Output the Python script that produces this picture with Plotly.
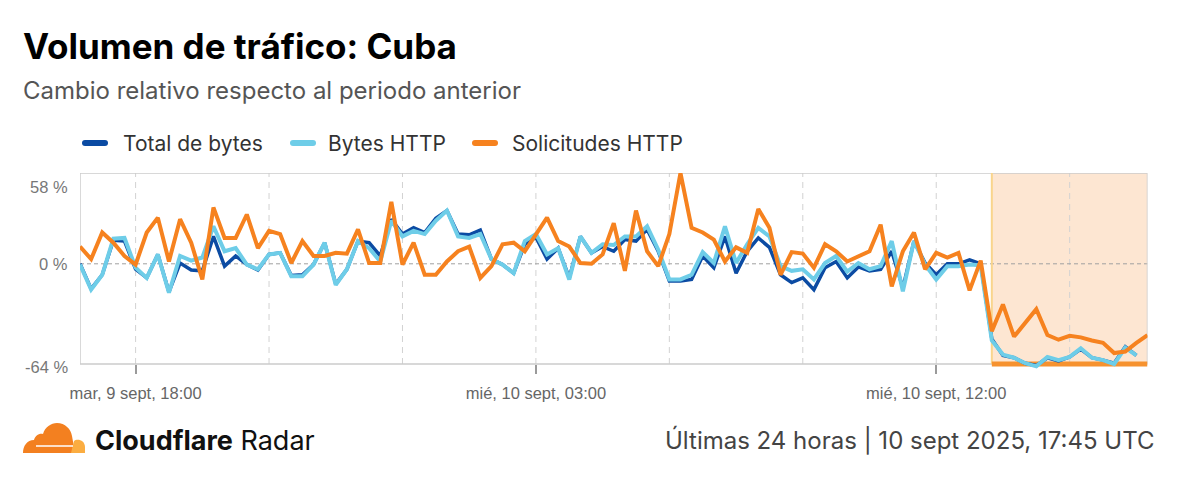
import plotly.graph_objects as go
import pandas as pd

# ---------------- data (relative change, %) ----------------
start_time = "2025-09-09 16:45"
step = "15min"

http_requests = [11, 3, 20, 13.5, 5, -0.5, 20, 29.5, 1.5, 28.5,
                 13.5, -10, 36, 16.5, 16.5, 31.5, 10, 21, 19, 0.5,
                 14.5, 5, 5, 7, 6.5, 22, 0.5, 0.5, 39.5, -0.5,
                 13.5, -7, -7, 1.5, 8, 11, -9, -1.5, 12.5, 13.5,
                 8, 19, 29.5, 14.5, 11, 0.5, 0, 6, 26, -4.5,
                 34, 8, -1.5, 19, 58, 23, 20, 15.5, 1.5, 10.5,
                 7, 35, 23, -7, 7.5, 6.5, -2.5, 12.5, 8, 1.5,
                 5, 8, 25, -14.5, 8, 20, -3.5, 7, 4, 7,
                 -17, 2, -43, -26, -46.5, -38, -29, -45.5, -48.5, -46,
                 -47, -49, -50.5, -57, -56, -50.5, -45.5]

http_bytes = [-0.5, -16.5, -7, 16, 16.5, -2.5, -9, 6, -18.5, 5,
              2, 4, 24, 8, 10, -0.5, -3.5, 6, 7, -8,
              -8, -0.5, 13.5, -13.5, -3.5, 14.5, 10, 1.5, 27.5, 17.5,
              21, 19, 27.5, 34, 17.5, 16.5, 19, 3, -0.5, -6,
              14.5, 19, 6, 10, -10, 17.5, 7, 12.5, 12, 17.5,
              17.5, 24, 9, -10, -10, -7, 7.5, 0.5, 24, 0.5,
              12.5, 23, 17.5, -1.5, -4.5, -3.5, -10, 0.5, 5, -5,
              0.5, -3.5, -1.5, 14.5, -17.5, 14.5, -0.5, -10, -1.5, -1.5,
              -0.5, -1, -49, -58, -60, -63.5, -65.5, -59.5, -61.5, -59.5,
              -54, -60, -61.5, -64, -53.5, -58.5]

total_bytes = [0, -16, -7, 15, 14.5, -3.5, -9, 6, -18, 0.5,
               -4, -4.5, 17.5, -1.5, 5, -0.5, -4, 6, 7, -7.5,
               -7, -0.5, 13.5, -13, -3.5, 14.5, 13.5, 5, 28.5, 19,
               23, 20, 29, 34, 19, 18.5, 21.5, 3, -0.5, -6,
               12.5, 17, 3, 10, -9, 17.5, 7, 11, 8, 15.5,
               14.5, 22, 8, -11, -11, -10, 5, -2.5, 17.5, -6,
               8, 16.5, 10.5, -7, -12, -9, -16.5, -2.5, 1.5, -9,
               -2, -4.5, -3.5, 8, -15.5, 14.5, 0.5, -7, 0, 0,
               2.5, 0, -48, -58.5, -60, -63.5, -65, -60, -62, -59.5,
               -54.5, -60, -61.5, -63.5, -53, -58.5]

series_names = ["Total de bytes", "Bytes HTTP", "Solicitudes HTTP"]
series_colors = ["#0B4BA3", "#6ECDE8", "#F6821F"]

tick_times = ["2025-09-09 18:00", "2025-09-10 03:00", "2025-09-10 12:00"]
tick_labels = ["mar, 9 sept, 18:00", "mié, 10 sept, 03:00", "mié, 10 sept, 12:00"]
grid_times = ["2025-09-09 18:00", "2025-09-09 21:00", "2025-09-10 00:00",
              "2025-09-10 03:00", "2025-09-10 06:00", "2025-09-10 09:00",
              "2025-09-10 12:00", "2025-09-10 15:00"]
y_tick_labels = ["58 %", "0 %", "-64 %"]
outage_start = "2025-09-10 13:15"

times = pd.date_range(start_time, periods=len(http_requests), freq=step)
t_end = times[-1]

# ---------------- geometry (page pixels) ----------------
W, H = 1160, 477
OX, OY = 8, 8
Y_MAX, Y_MIN, Y_LOW = 58, -64, -68
PX_TOP, PX_BOT = 173, 364
scale = (PX_BOT - PX_TOP) / (Y_MAX - Y_MIN)
px_low = PX_BOT + (Y_MIN - Y_LOW) * scale


def fx(px):
    return px - OX


def fy(py):
    return py - OY


x_dom = [fx(80) / W, fx(1147.5) / W]
y_dom = [1 - fy(px_low) / H, 1 - fy(PX_TOP) / H]

fig = go.Figure()

line_widths = [3.5, 4, 4]
for name, vals, col, lw in zip(series_names, [total_bytes, http_bytes, http_requests],
                               series_colors, line_widths):
    fig.add_trace(go.Scatter(x=times[:len(vals)], y=vals, mode="lines", name=name,
                             line=dict(color=col, width=lw), showlegend=False,
                             hoverinfo="skip"))

# pixel overlay subplot (whole figure)
fig.add_trace(go.Scatter(x=[None], y=[None], xaxis="x2", yaxis="y2",
                         showlegend=False, hoverinfo="skip"))

shapes = []
shapes.append(dict(type="rect", xref="x", yref="y", x0=outage_start, x1=t_end,
                   y0=Y_MIN, y1=Y_MAX, fillcolor="rgba(246,130,31,0.2)",
                   line=dict(width=0), layer="below"))
for gt in grid_times:
    shapes.append(dict(type="line", xref="x", yref="y", x0=gt, x1=gt, y0=Y_MIN, y1=Y_MAX,
                       line=dict(color="#d2d2d2", width=1, dash="6px,5px"), layer="below"))
shapes.append(dict(type="line", xref="x", yref="y", x0=times[0], x1=t_end, y0=0, y1=0,
                   line=dict(color="#a0a0a0", width=1, dash="4px,3px"), layer="below"))
shapes.append(dict(type="rect", xref="x", yref="y", x0=times[0], x1=t_end,
                   y0=Y_MIN, y1=Y_MAX, line=dict(color="#cccccc", width=1.5),
                   fillcolor="rgba(0,0,0,0)", layer="below"))
shapes.append(dict(type="line", xref="x", yref="y", x0=outage_start, x1=outage_start,
                   y0=Y_MIN, y1=Y_MAX, line=dict(color="#F9D58C", width=2), layer="below"))
shapes.append(dict(type="line", xref="x", yref="y", x0=outage_start, x1=t_end,
                   y0=Y_MIN, y1=Y_MIN, line=dict(color="#F6922F", width=5), layer="below"))


def pill(x0, x1, yc, h):
    r = h / 2
    return (f"M {x0 + r},{yc - r} L {x1 - r},{yc - r} Q {x1},{yc - r} {x1},{yc} "
            f"Q {x1},{yc + r} {x1 - r},{yc + r} L {x0 + r},{yc + r} "
            f"Q {x0},{yc + r} {x0},{yc} Q {x0},{yc - r} {x0 + r},{yc - r} Z")


annotations = []
legend_swatch_x = [82, 290, 472]
legend_text_x = [121, 326, 510]
LEG_Y = 143
for sx, tx, name, col in zip(legend_swatch_x, legend_text_x, series_names, series_colors):
    shapes.append(dict(type="path", xref="x2", yref="y2",
                       path=pill(fx(sx), fx(sx + 26), fy(LEG_Y), 6),
                       fillcolor=col, line=dict(width=0)))
    annotations.append(dict(xref="x2", yref="y2", x=fx(tx), y=fy(LEG_Y), text=name,
                            showarrow=False, xanchor="left", yanchor="middle",
                            font=dict(family="Inter", size=21, color="#333333")))

y_label_px = [187, 264, 366.5]
for lab, py in zip(y_tick_labels, y_label_px):
    annotations.append(dict(xref="x2", yref="y2", x=fx(70), y=fy(py), text=lab,
                            showarrow=False, xanchor="right", yanchor="middle",
                            font=dict(family="Liberation Sans", size=16.5, color="#777777")))

annotations.append(dict(xref="x2", yref="y2", x=fx(21), y=fy(46),
                        text="<b>Volumen de tráfico: Cuba</b>", showarrow=False,
                        xanchor="left", yanchor="middle",
                        font=dict(family="Inter", size=35, color="#000000")))
annotations.append(dict(xref="x2", yref="y2", x=fx(21), y=fy(90),
                        text="Cambio relativo respecto al periodo anterior", showarrow=False,
                        xanchor="left", yanchor="middle",
                        font=dict(family="Inter", size=24, color="#555555")))
annotations.append(dict(xref="x2", yref="y2", x=fx(93), y=fy(440),
                        text="<b>Cloudflare</b> Radar", showarrow=False,
                        xanchor="left", yanchor="middle",
                        font=dict(family="Inter", size=27, color="#111111")))
annotations.append(dict(xref="x2", yref="y2", x=fx(1156), y=fy(440),
                        text="Últimas 24 horas | 10 sept 2025, 17:45 UTC", showarrow=False,
                        xanchor="right", yanchor="middle",
                        font=dict(family="Inter", size=24, color="#444444")))


def P(x, y):
    return f"{fx(x)},{fy(y)}"


big_cloud = (f"M {P(23,453)} C {P(23,446)} {P(27,440)} {P(34,440)} "
             f"C {P(35,436)} {P(39,433)} {P(43,434)} "
             f"C {P(45,427)} {P(51,423)} {P(57,423)} "
             f"C {P(65,423)} {P(71,429)} {P(72,436)} "
             f"L {P(75,453)} Z")
small_cloud = (f"M {P(71,453)} L {P(74,441)} C {P(77,438)} {P(85,440)} {P(85,447)} "
               f"L {P(85,453)} Z")
shapes.append(dict(type="path", xref="x2", yref="y2", path=big_cloud,
                   fillcolor="#F38020", line=dict(width=0)))
shapes.append(dict(type="path", xref="x2", yref="y2", path=small_cloud,
                   fillcolor="#FBAD41", line=dict(width=0)))
shapes.append(dict(type="line", xref="x2", yref="y2", x0=fx(36), x1=fx(73),
                   y0=fy(446), y1=fy(446), line=dict(color="#ffffff", width=1.5)))

fig.update_layout(
    width=W, height=H,
    margin=dict(l=0, r=0, t=0, b=0, pad=0, autoexpand=False),
    paper_bgcolor="#ffffff", plot_bgcolor="rgba(0,0,0,0)",
    showlegend=False,
    xaxis=dict(domain=x_dom, type="date", range=[times[0], t_end], anchor="free",
               position=1 - fy(PX_BOT) / H, showgrid=False, zeroline=False,
               showline=False, tickvals=tick_times, ticktext=tick_labels,
               ticks="outside", ticklen=9, tickwidth=2, tickcolor="#9a9a9a",
               ticklabelstandoff=5, automargin=False,
               tickfont=dict(family="Liberation Sans", size=16.5, color="#666666")),
    yaxis=dict(domain=y_dom, range=[Y_LOW, Y_MAX], showgrid=False, zeroline=False,
               showticklabels=False, showline=False, ticks="", automargin=False),
    xaxis2=dict(domain=[0, 1], range=[0, W], visible=False, anchor="y2",
                fixedrange=True, automargin=False),
    yaxis2=dict(domain=[0, 1], range=[H, 0], visible=False, anchor="x2",
                fixedrange=True, automargin=False),
    shapes=shapes, annotations=annotations,
)

fig.write_html("out.html")
